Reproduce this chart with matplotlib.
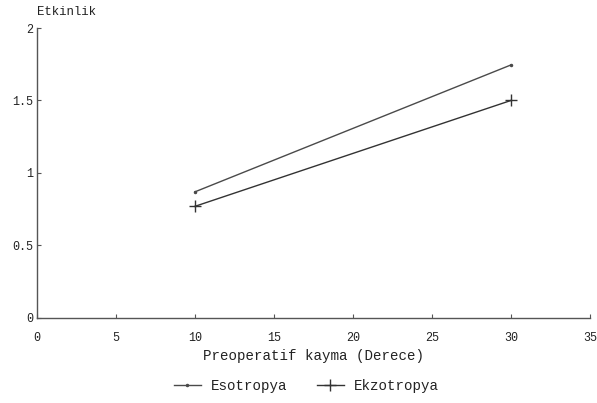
import matplotlib
matplotlib.use("Agg")
import matplotlib.pyplot as plt

x_values = [10, 30]
esotropya = [0.87, 1.745]
ekzotropya = [0.77, 1.50]
x_ticks = [0, 5, 10, 15, 20, 25, 30, 35]
y_ticks = [0, 0.5, 1, 1.5, 2]
y_tick_labels = ["0", "0.5", "1", "1.5", "2"]

plt.rcParams['font.family'] = ['Liberation Mono', 'DejaVu Sans Mono']

fig = plt.figure(figsize=(5.97, 4.03), dpi=100)
ax = fig.add_axes([0.062, 0.211, 0.926, 0.7195])

ax.plot(x_values, esotropya, color='#4a4a4a', lw=1.0, marker='.', markersize=3,
        label='Esotropya')
ax.plot(x_values, ekzotropya, color='#333333', lw=1.0, marker='+', markersize=8,
        markeredgewidth=1.0, label='Ekzotropya')

ax.set_xlim(0, 35)
ax.set_ylim(0, 2)
ax.set_xticks(x_ticks)
ax.set_yticks(y_ticks)
ax.set_yticklabels(y_tick_labels)
for s in ['top', 'right']:
    ax.spines[s].set_visible(False)
for s in ['left', 'bottom']:
    ax.spines[s].set_color('#555555')
    ax.spines[s].set_linewidth(1.0)
ax.tick_params(axis='both', direction='in', length=3, width=0.8, color='#555555',
               labelsize=8.5, labelcolor='#222222')
ax.tick_params(axis='x', pad=10)
ax.tick_params(axis='y', pad=3)

ax.set_xlabel('Preoperatif kayma (Derece)', fontsize=10.2, color='#222222', labelpad=4)
ax.text(0.0, 1.035, 'Etkinlik', transform=ax.transAxes, fontsize=8.9,
        color='#222222', ha='left', va='bottom')

fig.legend(loc='center', bbox_to_anchor=(0.513, 0.042), ncol=2, frameon=False,
           fontsize=10.2, handlelength=1.9, handletextpad=0.7, columnspacing=2.1,
           labelcolor='#222222')

fig.savefig('out.png', dpi=100)
